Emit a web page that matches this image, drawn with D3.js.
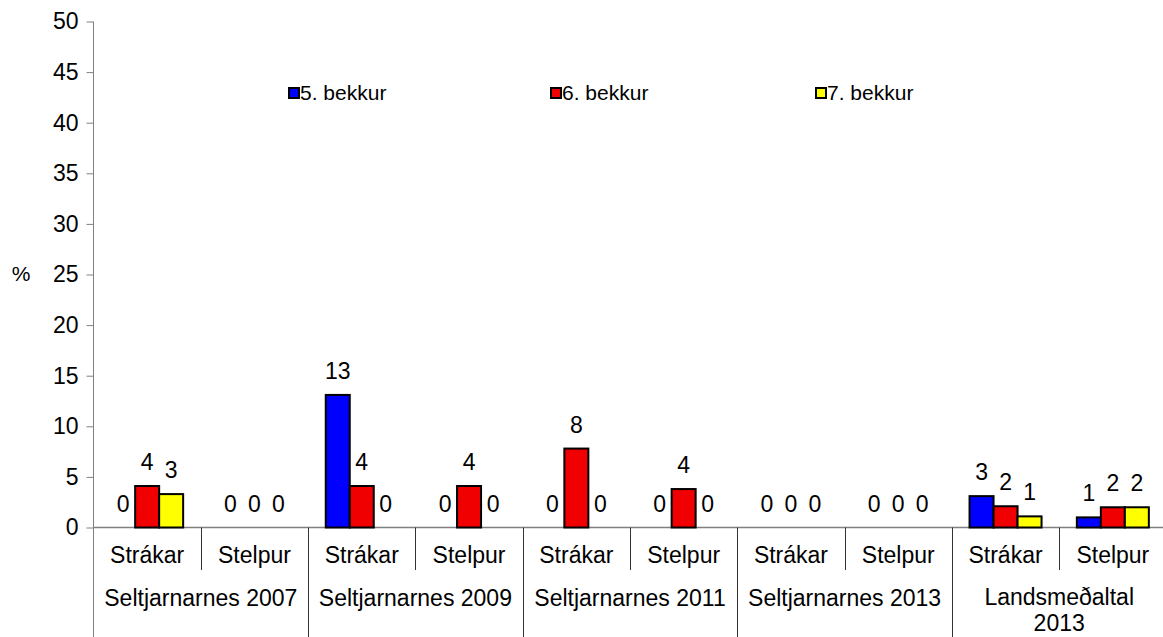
<!DOCTYPE html>
<html>
<head>
<meta charset="utf-8">
<script src="https://cdn.jsdelivr.net/npm/d3@7"></script>
<style>
  body { margin: 0; background: #fff; }
  text { font-family: "Liberation Sans", Arial, sans-serif; fill: #000; }
</style>
</head>
<body>
<script>
// data
const groups = ["Seltjarnarnes 2007", "Seltjarnarnes 2009", "Seltjarnarnes 2011", "Seltjarnarnes 2013", "Landsmeðaltal 2013"]
const genders = ["Strákar", "Stelpur"]
const series = ["5. bekkur", "6. bekkur", "7. bekkur"]
const colors = ["#0000ff", "#f00000", "#ffff00"]
// one row per group+gender, values for 5., 6., 7. bekkur
const bekkur5 = [0, 0, 13.1, 0, 0, 0, 0, 0, 3.1, 1.0]
const bekkur6 = [4.1, 0, 4.1, 4.1, 7.8, 3.8, 0, 0, 2.1, 2.0]
const bekkur7 = [3.3, 0, 0, 0, 0, 0, 0, 0, 1.1, 2.0]
const yTicks = [0, 5, 10, 15, 20, 25, 30, 35, 40, 45, 50]

const W = 1163, H = 637
const fs = '23px'
const svg = d3.select('body').append('svg')
    .attr('width', W)
    .attr('height', H)

const cells = []
groups.forEach((g, gi) => genders.forEach((s, si) => cells.push({ group: g, gender: s, key: gi + '-' + si })))
const allSeries = [bekkur5, bekkur6, bekkur7]

// scales
const xScale = d3.scaleBand()
    .domain(cells.map(d => d.key))
    .range([93.5, 1166.5])
    .paddingInner(0)
    .paddingOuter(0)

const yScale = d3.scaleLinear()
    .domain([0, 50])
    .range([527.5, 21.5])

const barW = 24

// y axis
const yAxis = svg.append('g')
    .attr('transform', 'translate(93.5,0)')
    .call(d3.axisLeft(yScale).tickValues(yTicks).tickSize(7).tickPadding(8))
yAxis.select('.domain').attr('stroke', '#808080').attr('d', 'M0,21.5V' + H)
yAxis.selectAll('.tick line').attr('stroke', '#808080')
yAxis.selectAll('.tick text')
    .style('font-size', fs)
    .style('font-family', '"Liberation Sans", Arial, sans-serif')

svg.append('text')
    .attr('x', 21)
    .attr('y', 274)
    .attr('text-anchor', 'middle')
    .attr('dy', '0.35em')
    .style('font-size', '21px')
    .text('%')

// x axis line
svg.append('line')
    .attr('x1', 93.5).attr('x2', W)
    .attr('y1', yScale(0)).attr('y2', yScale(0))
    .attr('stroke', '#808080')
    .attr('stroke-width', 1.5)

// separators between cells
cells.forEach((c, i) => {
    if (i === 0) return
    const x = Math.round(xScale(c.key)) + 0.5
    const isGroup = i % 2 === 0
    svg.append('line')
        .attr('x1', x).attr('x2', x)
        .attr('y1', yScale(0))
        .attr('y2', isGroup ? H : 570)
        .attr('stroke', '#333')
        .attr('stroke-width', 1)
})

// gender labels
svg.selectAll('.gender').data(cells)
    .enter()
    .append('text')
        .attr('x', d => xScale(d.key) + xScale.bandwidth() / 2)
        .attr('y', 555)
        .attr('dy', '0.35em')
        .attr('text-anchor', 'middle')
        .style('font-size', fs)
        .text(d => d.gender)

// group labels
groups.forEach((g, gi) => {
    const x = xScale(gi + '-0') + xScale.bandwidth()
    const t = svg.append('text')
        .attr('x', x)
        .attr('text-anchor', 'middle')
        .style('font-size', fs)
    if (g === "Landsmeðaltal 2013") {
        t.append('tspan').attr('x', x).attr('y', 597).attr('dy', '0.35em').text('Landsmeðaltal')
        t.append('tspan').attr('x', x).attr('y', 623).attr('dy', '0.35em').text('2013')
    } else {
        t.attr('y', 598).attr('dy', '0.35em').text(g)
    }
})

// bars and value labels
const fmt = d3.format('.0f')
allSeries.forEach((vals, si) => {
    const data = vals.map((v, i) => ({ v: v, key: cells[i].key }))
    const cx = d => xScale(d.key) + xScale.bandwidth() / 2 + (si - 1) * barW
    svg.selectAll('.bar' + si).data(data.filter(d => d.v > 0))
        .enter()
        .append('rect')
            .attr('x', d => cx(d) - barW / 2)
            .attr('y', d => yScale(d.v))
            .attr('width', barW)
            .attr('height', d => yScale(0) - yScale(d.v))
            .attr('fill', colors[si])
            .attr('stroke', '#000')
            .attr('stroke-width', 2)
    svg.selectAll('.lab' + si).data(data)
        .enter()
        .append('text')
            .attr('x', cx)
            .attr('y', d => yScale(d.v) - 24)
            .attr('dy', '0.35em')
            .attr('text-anchor', 'middle')
            .style('font-size', fs)
            .text(d => fmt(d.v))
})

// legend
const legX = [289, 551, 816]
series.forEach((s, i) => {
    svg.append('rect')
        .attr('x', legX[i])
        .attr('y', 88)
        .attr('width', 10)
        .attr('height', 10)
        .attr('fill', colors[i])
        .attr('stroke', '#000')
        .attr('stroke-width', 2)
    svg.append('text')
        .attr('x', legX[i] + 11)
        .attr('y', 93)
        .attr('dy', '0.35em')
        .style('font-size', '21px')
        .text(s)
})
</script>
</body>
</html>
